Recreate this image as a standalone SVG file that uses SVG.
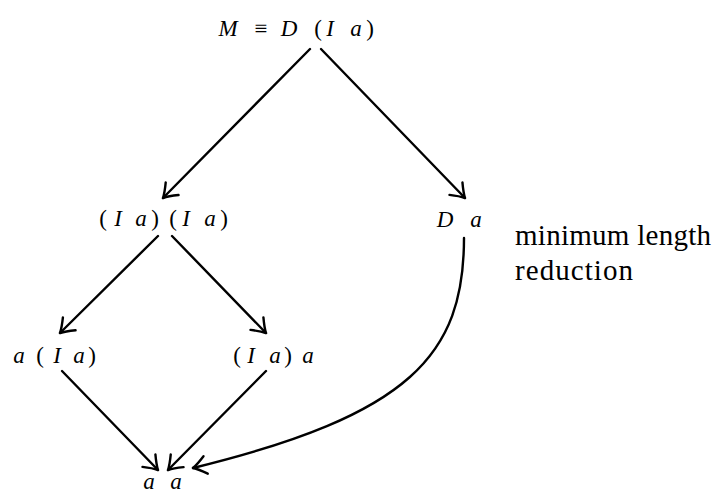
<svg xmlns="http://www.w3.org/2000/svg" width="724" height="496" viewBox="0 0 724 496">
<style>
text{font-family:"Liberation Serif","DejaVu Serif","Times New Roman",serif;font-size:23px;fill:#000}
.m{text-anchor:middle}
.i{font-style:italic}
.lbl{font-size:29px}
.c{fill:none;stroke:#000;stroke-width:2.4;stroke-linecap:round}
</style>
<defs>
<marker id="ah" markerUnits="userSpaceOnUse" viewBox="-16 -12 20 24" markerWidth="20" markerHeight="24" refX="0" refY="0" orient="auto" overflow="visible">
<path d="M-13,-9 Q-5,-2.5 0,0 Q-5,2.5 -13,9" fill="none" stroke="#000" stroke-width="2.4" stroke-linecap="round" stroke-linejoin="round"/>
</marker>
</defs>
<rect width="724" height="496" fill="#fff"/>
<g id="n-top">
<text class="m" y="36"><tspan class="i" x="228">M</tspan><tspan x="261">≡</tspan><tspan class="i" x="289">D</tspan><tspan x="318">(</tspan><tspan class="i" x="330">I</tspan><tspan class="i" x="356">a</tspan><tspan x="370">)</tspan></text>
</g>
<g id="n-iaia">
<text class="m" y="226"><tspan x="103">(</tspan><tspan class="i" x="118">I</tspan><tspan class="i" x="141">a</tspan><tspan x="155">)</tspan><tspan x="173">(</tspan><tspan class="i" x="186">I</tspan><tspan class="i" x="210">a</tspan><tspan x="224">)</tspan></text>
</g>
<g id="n-da">
<text class="m" y="227"><tspan class="i" x="445">D</tspan><tspan class="i" x="476">a</tspan></text>
</g>
<g id="n-aia">
<text class="m" y="363"><tspan class="i" x="19">a</tspan><tspan x="40">(</tspan><tspan class="i" x="57">I</tspan><tspan class="i" x="79">a</tspan><tspan x="92">)</tspan></text>
</g>
<g id="n-iaa">
<text class="m" y="363"><tspan x="237">(</tspan><tspan class="i" x="251">I</tspan><tspan class="i" x="275">a</tspan><tspan x="288">)</tspan><tspan class="i" x="308">a</tspan></text>
</g>
<g id="n-aa">
<text class="m" y="489"><tspan class="i" x="149">a</tspan><tspan class="i" x="176">a</tspan></text>
</g>
<g id="label">
<text class="lbl" x="515" y="245" textLength="196" lengthAdjust="spacing">minimum length</text>
<text class="lbl" x="515" y="280" textLength="118" lengthAdjust="spacing">reduction</text>
</g>
<g id="connectors">
<path class="c" d="M310,49 L163,198" marker-end="url(#ah)"/>
<path class="c" d="M321,49 L465,198" marker-end="url(#ah)"/>
<path class="c" d="M158,236 L60,333" marker-end="url(#ah)"/>
<path class="c" d="M172,236 L266,333" marker-end="url(#ah)"/>
<path class="c" d="M62,371 L158,470" marker-end="url(#ah)"/>
<path class="c" d="M266,371 L168,470" marker-end="url(#ah)"/>
<path class="c" d="M464,238 C464,355 410,415 193,468" marker-end="url(#ah)"/>
</g>
</svg>
